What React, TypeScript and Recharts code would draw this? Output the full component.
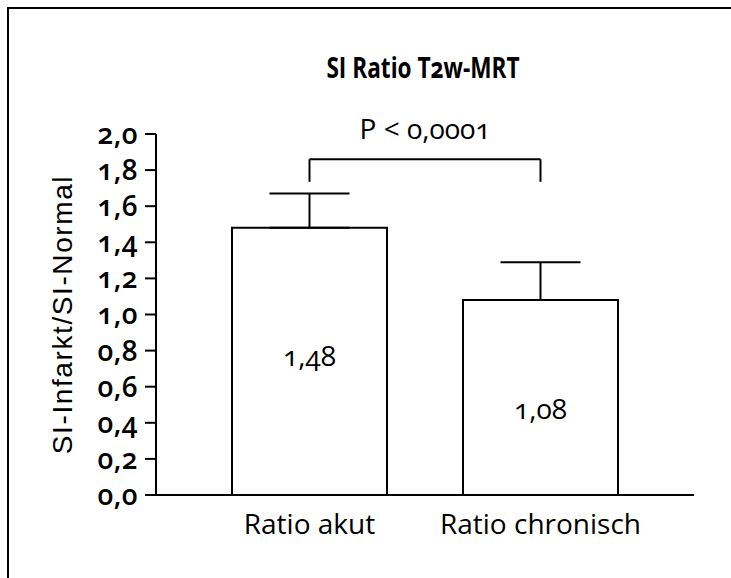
import React from "react";
import {
  BarChart,
  Bar,
  XAxis,
  YAxis,
  ErrorBar,
  LabelList,
  ReferenceLine,
  Label,
} from "recharts";

const categories = ["Ratio akut", "Ratio chronisch"];
const means = [1.48, 1.08];
const upperErrors = [0.19, 0.21];
const valueLabels = ["1,48", "1,08"];
const yTicks = [0, 0.2, 0.4, 0.6, 0.8, 1.0, 1.2, 1.4, 1.6, 1.8, 2.0];
const bracketTop = 1.86;
const bracketLeg = 1.735;
const pLabel = "P < 0,0001";
const title = "SI Ratio T2w-MRT";
const yLabel = "SI-Infarkt/SI-Normal";

const data = categories.map((c, i) => ({
  name: c,
  value: means[i],
  err: [0, upperErrors[i]],
  label: valueLabels[i],
}));

const FONT = "'Open Sans', sans-serif";
const ONUM: React.CSSProperties = {
  fontVariantNumeric: "oldstyle-nums",
  fontFeatureSettings: '"onum" 1',
};
const LABEL_DY = [-6, 10];

const fmt = (v: number) => v.toFixed(1).replace(".", ",");

const ValueLabel = (props: any) => {
  const { x, y, width, height, index, value } = props;
  return (
    <text
      x={x + width / 2}
      y={y + height / 2 + (LABEL_DY[index] || 0)}
      textAnchor="middle"
      dominantBaseline="central"
      fontFamily={FONT}
      fontSize={28}
      fill="#000"
      style={ONUM}
    >
      {value}
    </text>
  );
};

const YLabel = (props: any) => {
  const { viewBox } = props;
  const cx = 62;
  const cy = viewBox.y + viewBox.height / 2;
  return (
    <text
      x={cx}
      y={cy}
      transform={`rotate(-90 ${cx} ${cy})`}
      textAnchor="middle"
      dominantBaseline="central"
      fontFamily="'Liberation Sans', Arial, sans-serif"
      fontSize={28}
      letterSpacing={1.6}
      fill="#000"
    >
      {yLabel}
    </text>
  );
};

export default function App() {
  return (
    <div
      style={{
        position: "absolute",
        left: 0,
        top: 0,
        width: 731,
        height: 578,
        background: "#fff",
        overflow: "hidden",
      }}
    >
      <div
        style={{
          position: "absolute",
          left: 7,
          top: 7,
          width: 740,
          height: 590,
          borderLeft: "2px solid #000",
          borderTop: "2px solid #000",
        }}
      />
      <div
        style={{
          position: "absolute",
          left: 223,
          top: 48,
          width: 400,
          textAlign: "center",
          fontFamily: FONT,
          fontWeight: 700,
          fontSize: 29,
          lineHeight: "38px",
          color: "#000",
          transform: "scaleX(0.78)",
          ...ONUM,
        }}
      >
        {title}
      </div>
      <div style={{ position: "absolute", left: 0, top: 0 }}>
        <BarChart
          width={731}
          height={578}
          data={data}
          margin={{ top: 134, right: 37, bottom: 53, left: 0 }}
          barCategoryGap={38}
        >
          <XAxis
            dataKey="name"
            height={30}
            padding={{ left: 38, right: 38 }}
            axisLine={{ stroke: "#000", strokeWidth: 2 }}
            tickLine={false}
            tick={{ fill: "#000", fontSize: 28, fontFamily: FONT }}
            tickMargin={13}
            interval={0}
          />
          <YAxis
            width={156}
            domain={[0, 2]}
            ticks={yTicks}
            tickFormatter={fmt}
            axisLine={{ stroke: "#000", strokeWidth: 2 }}
            tickLine={{ stroke: "#000", strokeWidth: 2 }}
            tickSize={11}
            tick={{
              fill: "#000",
              fontSize: 28,
              fontFamily: FONT,
              letterSpacing: 0.5,
              fontWeight: 600,
              style: ONUM,
            }}
            tickMargin={7}
            interval={0}
          >
            <Label content={<YLabel />} />
          </YAxis>
          <Bar
            dataKey="value"
            fill="#fff"
            stroke="#000"
            strokeWidth={2}
            isAnimationActive={false}
          >
            <ErrorBar
              dataKey="err"
              width={40}
              stroke="#000"
              strokeWidth={2}
              direction="y"
            />
            <LabelList dataKey="label" content={<ValueLabel />} />
          </Bar>
          <ReferenceLine
            segment={[
              { x: categories[0], y: bracketTop },
              { x: categories[1], y: bracketTop },
            ]}
            stroke="#000"
            strokeWidth={2}
            ifOverflow="visible"
          >
            <Label
              value={pLabel}
              position="top"
              offset={20}
              fill="#000"
              fontSize={28}
              fontFamily={FONT}
              style={ONUM}
            />
          </ReferenceLine>
          <ReferenceLine
            segment={[
              { x: categories[0], y: bracketTop },
              { x: categories[0], y: bracketLeg },
            ]}
            stroke="#000"
            strokeWidth={2}
            ifOverflow="visible"
          />
          <ReferenceLine
            segment={[
              { x: categories[1], y: bracketTop },
              { x: categories[1], y: bracketLeg },
            ]}
            stroke="#000"
            strokeWidth={2}
            ifOverflow="visible"
          />
        </BarChart>
      </div>
    </div>
  );
}
